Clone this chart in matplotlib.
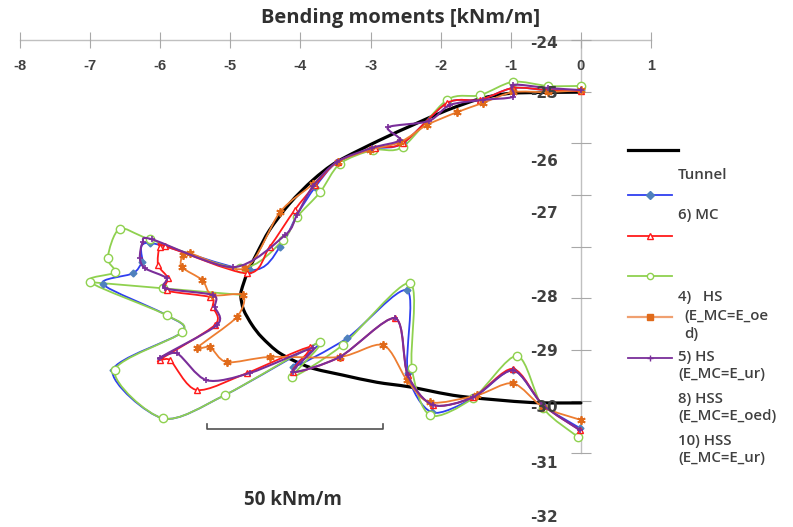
import numpy as np
import matplotlib.pyplot as plt
from matplotlib.lines import Line2D
from matplotlib.path import Path
from matplotlib.patches import PathPatch

# lining of the tunnel
tunnel_x = [0.00, -0.97, -1.44, -1.91, -2.37, -2.87, -3.48, -3.82, -4.15, -4.44, -4.62, -4.76,
            -4.84, -4.85, -4.81, -4.69, -4.55, -4.29, -3.87, -3.40, -2.91, -2.44, -1.73, -0.73, 0.00]
tunnel_y = [-25.01, -25.03, -25.14, -25.36, -25.63, -25.94, -26.36, -26.71, -27.16, -27.68, -28.13, -28.52,
            -28.84, -28.98, -29.23, -29.52, -29.76, -30.07, -30.34, -30.49, -30.63, -30.72, -30.90, -31.02, -31.03]

# 6) MC
mc_x = [0, -0.47, -0.97, -1.44, -1.91, -2.54, -2.94, -3.47, -3.79, -4.05, -4.29, -4.72, -6.15, -6.26,
        -6.39, -6.82, -5.91, -5.69, -6.68, -5.96, -5.08, -3.72, -4.11, -3.34, -2.48, -2.47, -2.13,
        -1.54, -0.97, -0.54, -0.01]
mc_y = [-24.97, -24.97, -24.93, -25.16, -25.22, -26.00, -26.11, -26.36, -26.85, -27.39, -28.01, -28.46,
        -27.93, -28.30, -28.52, -28.73, -29.33, -29.66, -30.40, -31.33, -30.88, -29.85, -30.34, -29.78,
        -28.85, -30.45, -31.21, -30.94, -30.40, -31.07, -31.52]

# 4) HS (E_MC=E_oed)
hs_oed_x = [0, -0.47, -0.97, -1.44, -1.91, -2.54, -2.94, -3.47, -3.79, -4.08, -4.44, -4.76, -5.93, -6.01,
            -6.03, -5.89, -5.91, -5.29, -5.25, -5.22, -6.01, -5.86, -5.48, -4.76, -3.87, -4.11, -3.44,
            -2.65, -2.47, -2.11, -1.54, -0.97, -0.54, -0.01]
hs_oed_y = [-24.99, -24.97, -24.93, -25.16, -25.22, -26.00, -26.09, -26.36, -26.81, -27.29, -28.01, -28.52,
            -27.99, -28.01, -28.36, -28.61, -28.85, -28.98, -29.17, -29.52, -30.20, -30.20, -30.78, -30.45,
            -29.95, -30.43, -30.14, -29.39, -30.49, -31.07, -30.92, -30.37, -31.07, -31.56]

# 5) HS (E_MC=E_ur); the run from the tip back to the wall is kept apart
hs_ur_x = [0, -0.47, -0.97, -1.44, -1.91, -2.54, -2.97, -3.44, -3.72, -4.05, -4.25, -4.86, -6.15, -6.58,
           -6.75, -6.65, -7.00, -5.91, -5.69, -6.65, -5.96, -5.08, -3.72, -4.12, -3.40,
           -2.44, -2.41, -2.15, -1.54, -0.91, -0.54, -0.04]
hs_ur_y = [-24.89, -24.89, -24.81, -25.07, -25.16, -26.07, -26.13, -26.40, -26.95, -27.43, -27.88, -28.42,
           -27.86, -27.66, -28.22, -28.50, -28.69, -29.33, -29.66, -30.40, -31.33, -30.88,
           -29.85, -30.53, -29.91, -28.71, -30.36, -31.27, -30.94, -30.12, -31.13, -31.69]
hs_ur_branch_x = [-7.00, -5.96, -4.82]
hs_ur_branch_y = [-28.69, -28.81, -28.94]

# 8) HSS (E_MC=E_oed)
hss_oed_x = [0, -0.47, -0.97, -1.40, -1.77, -2.20, -2.58, -3.01, -3.47, -3.82, -4.29, -4.79, -5.58, -5.68,
             -5.69, -5.40, -5.26, -4.82, -4.91, -5.48, -5.29, -5.05, -4.44, -3.44, -2.82, -2.48, -2.15,
             -1.48, -0.97, -0.54, 0]
hss_oed_y = [-24.97, -25.01, -25.01, -25.22, -25.40, -25.65, -25.98, -26.13, -26.36, -26.79, -27.33, -28.42,
             -28.13, -28.17, -28.40, -28.65, -28.94, -28.94, -29.37, -29.97, -29.95, -30.24, -30.14, -30.14,
             -29.91, -30.59, -31.02, -30.88, -30.65, -31.11, -31.36]

# 10) HSS (E_MC=E_ur)
hss_ur_x = [0, -0.47, -0.97, -0.97, -1.40, -1.87, -2.17, -2.75, -2.58, -2.98, -3.48, -3.82, -4.05, -4.22,
            -4.96, -6.12, -6.25, -6.29, -6.22, -5.91, -5.93, -5.25, -5.22, -5.19, -6.01, -5.76, -5.34,
            -4.72, -3.82, -4.11, -3.44, -2.65, -2.47, -2.11, -1.54, -0.97, -0.54, -0.01]
hss_ur_y = [-24.97, -24.93, -24.87, -25.10, -25.16, -25.26, -25.57, -25.69, -25.94, -26.09, -26.36, -26.83,
            -27.39, -27.78, -28.40, -27.86, -27.92, -28.22, -28.42, -28.61, -28.81, -28.94, -29.17, -29.52,
            -30.16, -30.07, -30.59, -30.45, -29.97, -30.43, -30.14, -29.39, -30.49, -31.07, -30.92, -30.40,
            -31.07, -31.56]

x_ticks = [-8, -7, -6, -5, -4, -3, -2, -1, 0, 1]
y_ticks = [-24, -25, -26, -27, -28, -29, -30, -31, -32]
y_labels = ['-24', '-25', '-26', '-27', '-28', '-29', '-30', '-31', '-32']
y_label_rows = [44, 93, 162, 214, 297, 352, 408, 463, 517]

scale_x = [-5.33, -5.33, -2.82, -2.82]
scale_y = [-31.44, -31.54, -31.54, -31.44]

W, H = 793, 527
TXT = '#404040'


def fx(px):
    return px / W


def fy(py):
    return 1 - py / H


def smooth(xs, ys, k=1 / 7):
    # smoothed line through the points, like a spreadsheet "smoothed line"
    pts = [np.array(p) for p in zip(xs, ys)]
    n = len(pts)
    verts, codes = [tuple(pts[0])], [Path.MOVETO]
    for i in range(n - 1):
        p0, p1 = pts[max(i - 1, 0)], pts[i]
        p2, p3 = pts[i + 1], pts[min(i + 2, n - 1)]
        c1 = p1 + (p2 - p0) * k
        c2 = p2 - (p3 - p1) * k
        verts += [tuple(c1), tuple(c2), tuple(p2)]
        codes += [Path.CURVE4] * 3
    return Path(verts, codes)


def series(ax, xs, ys, color, lw, z, **mk):
    ax.add_patch(PathPatch(smooth(xs, ys), fill=False, edgecolor=color, lw=lw, zorder=z,
                           capstyle='round', joinstyle='round'))
    if mk:
        ax.plot(xs, ys, ls='none', zorder=z + 0.5, **mk)


fig = plt.figure(figsize=(W / 100, H / 100), dpi=100)
ax = fig.add_axes([fx(20), fy(453), (651 - 20) / W, (453 - 40) / H])
ax.set_xlim(-8, 1)
ax.set_ylim(-32, -24)
ax.patch.set_alpha(0)

for s in ['top', 'right']:
    ax.spines[s].set_visible(False)
ax.spines['bottom'].set_position(('data', -24))
ax.spines['left'].set_position(('data', 0))
for s in ['bottom', 'left']:
    ax.spines[s].set_color('#c0c0c0')
    ax.spines[s].set_linewidth(1.0)
    ax.spines[s].set_zorder(0)

ax.set_xticks(x_ticks)
ax.set_xticklabels([str(v) for v in x_ticks])
ax.tick_params(axis='x', direction='inout', length=11, color='#a8a8a8', pad=8,
               labelsize=10.5, labelcolor=TXT)
for lab in ax.get_xticklabels():
    lab.set_fontweight('bold')
    lab.set_family('Liberation Sans')
ax.set_yticks(y_ticks)
ax.set_yticklabels([])
ax.tick_params(axis='y', direction='inout', length=15, color='#a8a8a8')

for lab, row in zip(y_labels, y_label_rows):
    fig.text(fx(558), fy(row), lab, ha='right', va='center', fontsize=11,
             family='DejaVu Sans', fontweight='bold', color=TXT)

series(ax, tunnel_x, tunnel_y, 'black', 2.3, 2)
series(ax, mc_x, mc_y, '#2f3ff0', 1.3, 3,
       marker='D', ms=3.5, mfc='#4f81bd', mec='#4f81bd')
series(ax, hs_ur_x, hs_ur_y, '#8fd14f', 1.3, 3.2,
       marker='o', ms=6, mfc='white', mec='#8fd14f', mew=1.0)
series(ax, hs_ur_branch_x, hs_ur_branch_y, '#8fd14f', 1.3, 3.2,
       marker='o', ms=6, mfc='white', mec='#8fd14f', mew=1.0, markevery=[1])
series(ax, hs_oed_x, hs_oed_y, '#ff1a1a', 1.3, 4,
       marker='^', ms=5, mfc='white', mec='#ff1a1a', mew=1.0)
series(ax, hss_oed_x, hss_oed_y, '#ed7d31', 1.3, 5,
       marker=(6, 2, 0), ms=6, mec='#e06a1a', mew=1.3)
series(ax, hss_ur_x, hss_ur_y, '#7a2e9a', 1.5, 6,
       marker='+', ms=5, mew=1.2, mec='#7a2e9a')

ax.plot(scale_x, scale_y, color='#505050', lw=1.2, zorder=2)
fig.text(fx(293), fy(500), '50 kNm/m', ha='center', va='center', fontsize=13.5,
         family='Open Sans', fontweight='bold', color='#303030')

fig.text(fx(401), fy(18), 'Bending moments [kNm/m]', ha='center', va='center', fontsize=14.5,
         family='Open Sans', fontweight='bold', color='#303030')

# legend drawn by hand, entries sit as in the report
legend_lines = [
    (150, 'black', None, 2.3, None, None),
    (195, '#2f3ff0', 'D', 1.3, '#4f81bd', '#4f81bd'),
    (236, '#ff1a1a', '^', 1.3, 'white', '#ff1a1a'),
    (276, '#8fd14f', 'o', 1.3, 'white', '#8fd14f'),
    (317, '#f0a070', 's', 1.6, '#e06a1a', '#e06a1a'),
    (358, '#7a2e9a', '+', 1.3, None, '#7a2e9a'),
]
for row, col, mk, lw, mfc, mec in legend_lines:
    x_end = 678 if mk is None else 672
    ln = Line2D([fx(628), fx(650), fx(x_end)], [fy(row)] * 3, transform=fig.transFigure, color=col,
                lw=lw, marker=mk, markevery=[1], ms=4.5, mfc=mfc if mfc else col,
                mec=mec if mec else col)
    fig.add_artist(ln)

legend_texts = [
    (678, 175, 'Tunnel'), (678, 215, '6) MC'), (678, 297, '4)   HS'), (684, 316, '(E_MC=E_oe'),
    (684, 334, 'd)'), (678, 357, '5) HS'), (678, 374, '(E_MC=E_ur)'), (678, 399, '8) HSS'),
    (678, 416, '(E_MC=E_oed)'), (678, 441, '10) HSS'), (678, 458, '(E_MC=E_ur)'),
]
for px, py, t in legend_texts:
    fig.text(fx(px), fy(py), t, ha='left', va='center', fontsize=10.8, family='Open Sans',
             fontweight='semibold', color=TXT)

fig.savefig('out.png', dpi=100)
